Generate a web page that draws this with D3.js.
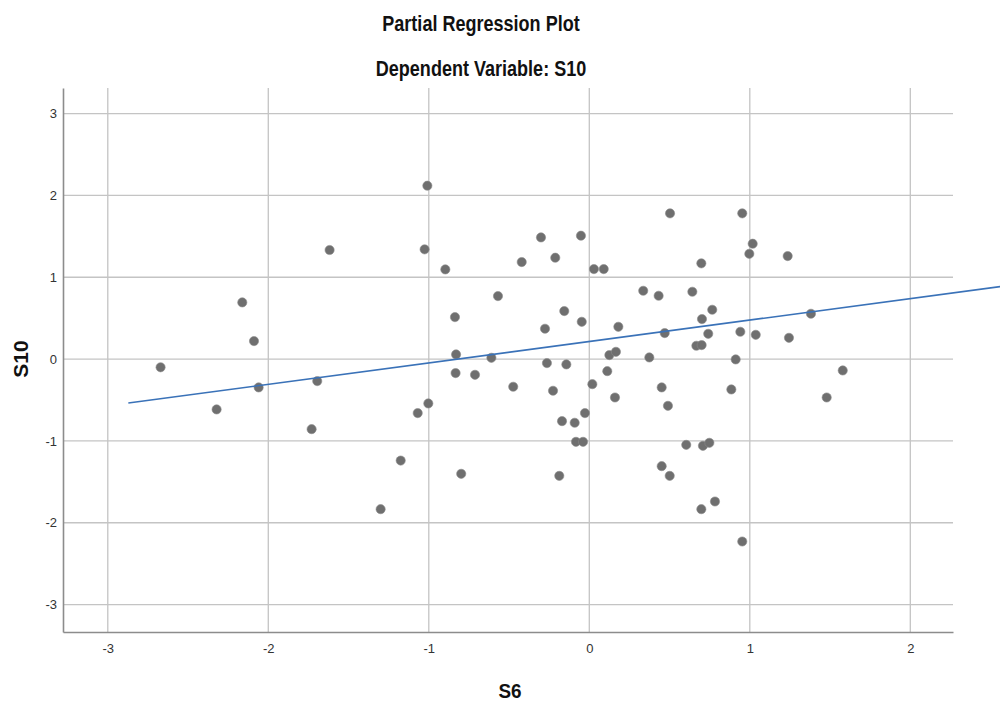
<!DOCTYPE html>
<html>
<head>
<meta charset="utf-8">
<script src="https://cdn.jsdelivr.net/npm/d3@7"></script>
<style>
  html, body { margin: 0; padding: 0; background: #ffffff; }
  svg { display: block; }
  text { font-family: "Liberation Sans", Arial, sans-serif; }
</style>
</head>
<body>
<svg id="chart" width="1000" height="704"></svg>
<script>
// Partial regression residuals: S6 (x) against S10 (y)
const s6 = [
  -2.671, -2.322, -2.162, -2.089, -2.060, -1.730, -1.695, -1.618, -1.300, -1.175,
  -1.069, -1.026, -1.009, -1.003, -0.897, -0.837, -0.830, -0.833, -0.798, -0.712,
  -0.610, -0.569, -0.474, -0.421, -0.301, -0.276, -0.264, -0.226, -0.212, -0.187,
  -0.170, -0.156, -0.143, -0.091, -0.083, -0.052, -0.047, -0.039, -0.027, 0.019,
  0.029, 0.090, 0.112, 0.125, 0.160, 0.166, 0.181, 0.336, 0.374, 0.432,
  0.451, 0.451, 0.470, 0.490, 0.501, 0.503, 0.604, 0.642, 0.667, 0.698,
  0.698, 0.700, 0.702, 0.708, 0.741, 0.748, 0.766, 0.783, 0.885, 0.912,
  0.941, 0.953, 0.953, 0.997, 1.018, 1.037, 1.236, 1.244, 1.381, 1.479,
  1.579
];
const s10 = [
  -0.100, -0.615, 0.693, 0.220, -0.346, -0.856, -0.269, 1.333, -1.834, -1.240,
  -0.660, 1.341, 2.119, -0.542, 1.096, 0.513, 0.057, -0.171, -1.402, -0.192,
  0.016, 0.770, -0.338, 1.186, 1.487, 0.371, -0.049, -0.387, 1.239, -1.427,
  -0.758, 0.587, -0.065, -0.778, -1.011, 1.508, 0.456, -1.011, -0.660, -0.306,
  1.100, 1.100, -0.147, 0.049, -0.469, 0.089, 0.395, 0.835, 0.020, 0.774,
  -0.346, -1.308, 0.318, -0.571, -1.427, 1.781, -1.048, 0.823, 0.163, 1.170,
  -1.834, 0.171, 0.489, -1.060, 0.309, -1.023, 0.603, -1.740, -0.371, -0.004,
  0.334, 1.781, -2.229, 1.287, 1.410, 0.297, 1.259, 0.260, 0.554, -0.469,
  -0.139
];

// Fitted line (start and end on the S6 axis) and its coefficients
const fitX = [-2.872, 2.62];
const fitSlope = 0.262;
const fitIntercept = 0.215;

const xTicks = [-3, -2, -1, 0, 1, 2];
const yTicks = [-3, -2, -1, 0, 1, 2, 3];

const titleLines = ["Partial Regression Plot", "Dependent Variable: S10"];
const xLabel = "S6";
const yLabel = "S10";

const svg = d3.select("#chart");

const plot = { left: 63, right: 953, top: 88, bottom: 632 };

const x = d3.scaleLinear().domain([-3.279, 2.266]).range([plot.left, plot.right]);
const y = d3.scaleLinear().domain([-3.335, 3.313]).range([plot.bottom, plot.top]);

// Grid lines
const grid = svg.append("g");
grid.selectAll("line.v").data(xTicks).join("line")
  .attr("x1", d => x(d)).attr("x2", d => x(d))
  .attr("y1", plot.top).attr("y2", plot.bottom)
  .attr("stroke", "#c4c4c4").attr("stroke-width", 1.3);
grid.selectAll("line.h").data(yTicks).join("line")
  .attr("x1", plot.left).attr("x2", plot.right)
  .attr("y1", d => y(d)).attr("y2", d => y(d))
  .attr("stroke", "#c4c4c4").attr("stroke-width", 1.3);

// Axes
const xAxis = d3.axisBottom(x).tickValues(xTicks).tickSize(0).tickPadding(12)
  .tickFormat(d3.format("d"));
const yAxis = d3.axisLeft(y).tickValues(yTicks).tickSize(0).tickPadding(6)
  .tickFormat(d3.format("d"));

const gx = svg.append("g").attr("transform", `translate(0,${plot.bottom})`).call(xAxis);
const gy = svg.append("g").attr("transform", `translate(${plot.left},0)`).call(yAxis);
[gx, gy].forEach(g => {
  g.select(".domain").attr("stroke", "#8c8c8c").attr("stroke-width", 1.6);
  g.selectAll("text").attr("fill", "#333").attr("font-size", 13)
    .style("font-family", "\"Liberation Sans\", Arial, sans-serif");
});
gx.selectAll(".tick text").text(d => d < 0 ? "-" + Math.abs(d) : d);
gy.selectAll(".tick text").text(d => d < 0 ? "-" + Math.abs(d) : d);

// Points
svg.append("g").selectAll("circle").data(s6.map((v, i) => [v, s10[i]])).join("circle")
  .attr("cx", d => x(d[0])).attr("cy", d => y(d[1]))
  .attr("r", 4.6)
  .attr("fill", "#6f6f6f")
  .attr("stroke", "#8a8a8a").attr("stroke-width", 0.6);

// Regression line (runs past the plot frame to the right)
const line = d3.line().x(d => x(d)).y(d => y(fitIntercept + fitSlope * d));
svg.append("path").datum(fitX)
  .attr("d", line)
  .attr("fill", "none")
  .attr("stroke", "#3a72b8")
  .attr("stroke-width", 1.6);

// Titles (condensed bold)
svg.selectAll("text.title").data(titleLines).join("text")
  .attr("class", "title")
  .attr("transform", (d, i) => `translate(481,${31 + i * 45}) scale(0.82,1)`)
  .attr("text-anchor", "middle")
  .attr("font-size", 22).attr("font-weight", "bold").attr("fill", "#111")
  .text(d => d);

svg.append("text")
  .attr("transform", "translate(510,698) scale(0.9,1)")
  .attr("text-anchor", "middle")
  .attr("font-size", 21).attr("font-weight", "bold").attr("fill", "#111")
  .text(xLabel);

svg.append("text")
  .attr("transform", `translate(28,${y(0)}) rotate(-90)`)
  .attr("text-anchor", "middle")
  .attr("font-size", 21).attr("font-weight", "bold").attr("fill", "#111")
  .text(yLabel);
</script>
</body>
</html>
